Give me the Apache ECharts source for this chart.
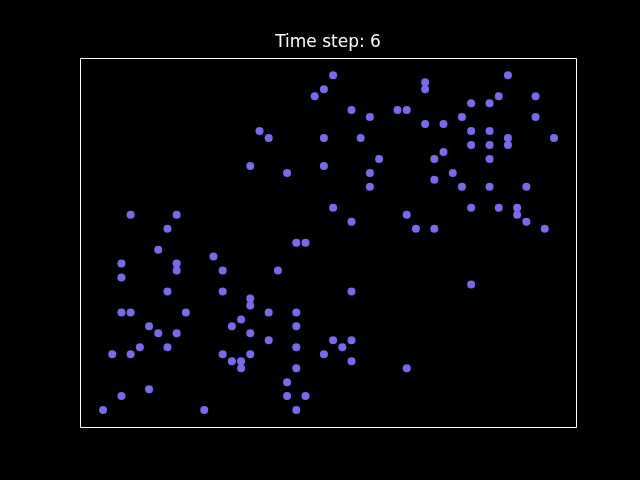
<!DOCTYPE html>
<html><head><meta charset="utf-8">
<script src="https://cdn.jsdelivr.net/npm/echarts@6/dist/echarts.min.js"></script>
<style>html,body{margin:0;padding:0;background:#000}#c{width:640px;height:480px}</style>
</head><body><div id="c"></div>
<script>
const titleText = "Time step: 6";
const xs = [25,24,23,27,29,32,33,17,18,24,28,30,16,20,24,29,29,25,33,27,21,22,
44,35,35,43,47,40,42,39,47,35,37,40,42,44,49,40,42,44,37,36,42,38,36,39,42,46,40,43,45,45,46,34,36,48,40,
3,8,7,6,2,8,8,12,13,2,7,13,16,16,2,3,9,15,5,14,6,8,16,4,7,1,3,13,16,14,15,15,5,2,0,11,
19,27,18,21,21,18,25,27,21,26,24,27,21,20,20,22,21,33];
const ys = [48,46,45,43,42,43,43,40,39,39,39,36,35,34,35,34,32,29,28,27,24,24,
48,47,46,45,45,44,44,42,42,41,41,40,40,39,39,38,38,38,37,36,36,34,33,32,32,32,29,29,29,28,27,26,26,26,18,
28,28,26,23,21,21,20,22,20,19,17,17,16,15,14,14,14,13,12,12,11,11,11,9,9,8,8,8,8,7,7,6,3,2,0,0,
20,17,14,14,12,10,10,10,9,9,8,7,6,4,2,2,0,6];
const data = xs.map((x,i)=>[x, ys[i]]);
const chart = echarts.init(document.getElementById('c'));
chart.setOption({
  backgroundColor: '#000',
  animation: false,
  graphic: [{type: 'text', x: 328, y: 43, style: {text: titleText, fill: '#fff', fontSize: 17,
    fontFamily: 'DejaVu Sans', textAlign: 'center', textVerticalAlign: 'middle'}}],
  grid: {left: 80.5, right: 63.5, top: 58.5, bottom: 52.5, show: true, borderColor: '#fff', borderWidth: 1, backgroundColor: 'transparent'},
  xAxis: {type: 'value', min: -2.45, max: 51.45, axisLine: {show: false}, axisTick: {show: false}, axisLabel: {show: false}, splitLine: {show: false}},
  yAxis: {type: 'value', min: -2.5, max: 50.4, axisLine: {show: false}, axisTick: {show: false}, axisLabel: {show: false}, splitLine: {show: false}},
  series: [{type: 'scatter', data: data, symbolSize: 8, itemStyle: {color: '#7B68EE', opacity: 1}}]
});
</script></body></html>
